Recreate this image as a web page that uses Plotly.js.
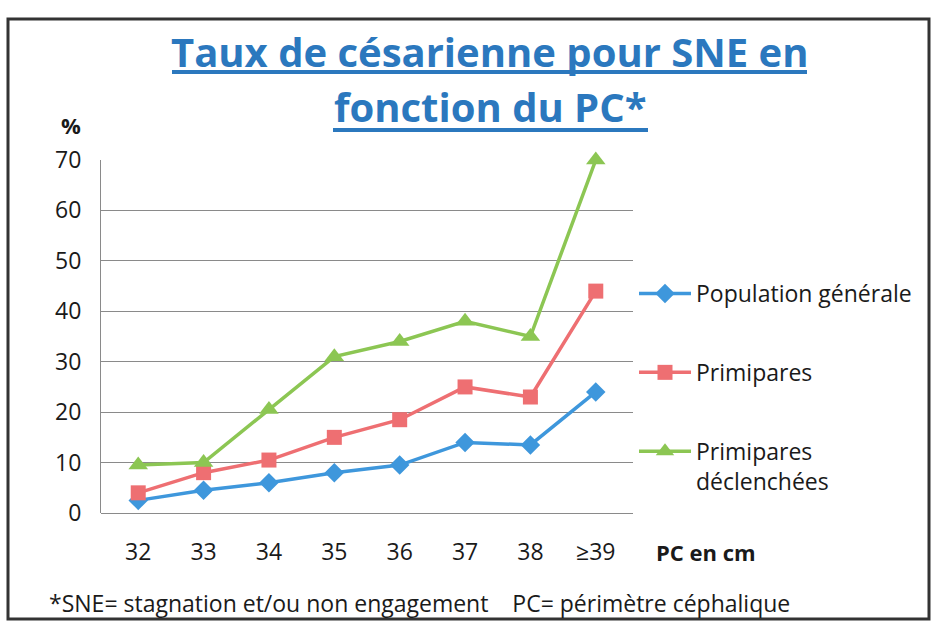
<!DOCTYPE html>
<html>
<head>
<meta charset="utf-8">
<script src="https://cdn.plot.ly/plotly-3.0.1.min.js"></script>
<style>html,body{margin:0;padding:0;background:#fff;}#chart{width:932px;height:621px;}</style>
</head>
<body>
<div id="chart"></div>
<script>
var categories = ["32", "33", "34", "35", "36", "37", "38", "≥39"];
var populationGenerale = [2.5, 4.5, 6, 8, 9.5, 14, 13.5, 24];
var primipares = [4, 8, 10.5, 15, 18.5, 25, 23, 44];
var primiparesDeclenchees = [9.5, 10, 20.5, 31, 34, 38, 35, 70];
var seriesNames = ["Population générale", "Primipares", "Primipares<br>déclenchées"];

var FONT = "'Open Sans', Lato, sans-serif";
var blue = "#3E97DC", red = "#EE6F72", green = "#8CC653", titleBlue = "#2B78BE";
var txt = "#1a1a1a";

var traces = [
  {x: categories, y: populationGenerale, name: seriesNames[0], type: "scatter", mode: "lines+markers",
   line: {color: blue, width: 3.5}, marker: {symbol: "diamond", size: 15, color: blue}, legendgroup: "a", cliponaxis: false},
  {x: categories, y: primipares, name: seriesNames[1], type: "scatter", mode: "lines+markers",
   line: {color: red, width: 3.5}, marker: {symbol: "square", size: 15, color: red}, legendgroup: "b", cliponaxis: false},
  {x: categories, y: primiparesDeclenchees, name: seriesNames[2], type: "scatter", mode: "lines+markers",
   line: {color: green, width: 3.5}, marker: {symbol: "triangle-up", size: 17, color: green}, legendgroup: "c", cliponaxis: false}
];

function px(x) { return (x - 101) / 532; }
function py(y) { return (513 - y) / 353; }

var layout = {
  width: 932, height: 621,
  margin: {l: 101, r: 299, t: 160, b: 108},
  paper_bgcolor: "#fff", plot_bgcolor: "#fff",
  font: {family: FONT, color: txt, size: 23},
  showlegend: true,
  legend: {x: px(634), xanchor: "left", y: py(272), yanchor: "top", tracegroupgap: 46,
           font: {family: FONT, size: 23, color: txt}, valign: "top", itemwidth: 52,
           bgcolor: "rgba(0,0,0,0)"},
  xaxis: {type: "category", showgrid: false, zeroline: false, showline: false, ticks: "",
          tickfont: {family: FONT, size: 23, color: txt}, ticklabelstandoff: 23, fixedrange: true},
  yaxis: {range: [0, 70], dtick: 10, showgrid: true, gridcolor: "#8a8a8a", gridwidth: 1,
          zeroline: true, zerolinecolor: "#8a8a8a", zerolinewidth: 1,
          showline: true, linecolor: "#8a8a8a", linewidth: 1, ticks: "",
          tickfont: {family: FONT, size: 23, color: txt}, ticklabelstandoff: 14, fixedrange: true},
  annotations: [
    {text: "<b>Taux de césarienne pour SNE en</b>", x: px(490), y: py(51), xref: "paper", yref: "paper",
     xanchor: "center", yanchor: "middle", showarrow: false, font: {family: FONT, size: 40, color: titleBlue}},
    {text: "<b>fonction du PC*</b>", x: px(490), y: py(107), xref: "paper", yref: "paper",
     xanchor: "center", yanchor: "middle", showarrow: false, font: {family: FONT, size: 40, color: titleBlue}},
    {text: "<b>%</b>", x: px(71), y: py(125), xref: "paper", yref: "paper", xanchor: "center", yanchor: "middle",
     showarrow: false, font: {family: FONT, size: 22, color: txt}},
    {text: "<b>PC en cm</b>", x: px(654), y: py(552), xref: "paper", yref: "paper", xanchor: "left", yanchor: "middle",
     showarrow: false, font: {family: FONT, size: 22, color: txt}},
    {text: "*SNE= stagnation et/ou non engagement    PC= périmètre céphalique", x: px(47), y: py(603),
     xref: "paper", yref: "paper", xanchor: "left", yanchor: "middle", showarrow: false,
     font: {family: FONT, size: 23, color: txt}}
  ],
  shapes: [
    {type: "rect", xref: "paper", yref: "paper", x0: px(8), x1: px(929), y0: py(619), y1: py(19),
     line: {color: "#333", width: 3}, fillcolor: "rgba(0,0,0,0)", layer: "below"},
    {type: "line", xref: "paper", yref: "paper", x0: px(172), x1: px(807), y0: py(72), y1: py(72),
     line: {color: titleBlue, width: 4}},
    {type: "line", xref: "paper", yref: "paper", x0: px(333), x1: px(648), y0: py(130), y1: py(130),
     line: {color: titleBlue, width: 4}}
  ]
};

Plotly.newPlot("chart", traces, layout, {displayModeBar: false, staticPlot: true});
</script>
</body>
</html>
